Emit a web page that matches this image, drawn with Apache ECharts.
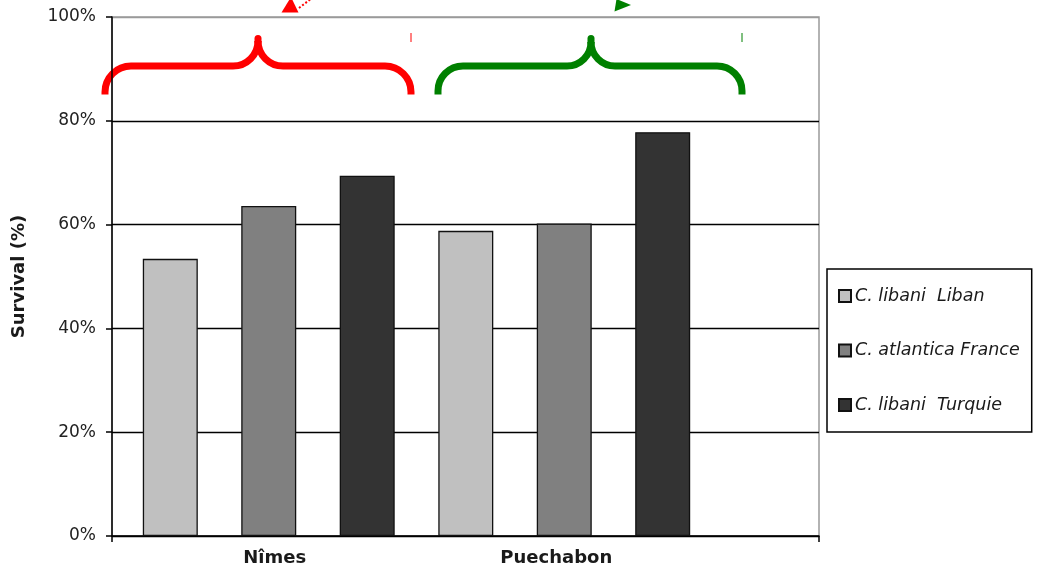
<!DOCTYPE html>
<html>
<head>
<meta charset="utf-8">
<title>Survival</title>
<script src="https://cdn.jsdelivr.net/npm/echarts@6/dist/echarts.min.js"></script>
<style>
  html, body { margin: 0; padding: 0; background: #fff; }
  #chart { width: 1039px; height: 571px; }
</style>
</head>
<body>
<div id="chart"></div>
<script>
// Sites and seed origins
const categories = ['Nîmes', 'Puechabon'];
const seriesNames = ['C. libani  Liban', 'C. atlantica France', 'C. libani  Turquie'];

// Survival rate (fraction) per site
const libaniLiban = [0.534, 0.588];
const atlanticaFrance = [0.636, 0.602];
const libaniTurquie = [0.694, 0.778];

// Y axis ticks
const yMin = 0;
const yMax = 1;
const yStep = 0.2;

const seriesValues = [libaniLiban, atlanticaFrance, libaniTurquie];
const seriesColors = ['#c0c0c0', '#808080', '#333333'];

const FONT = 'DejaVu Sans';

// Curly brace made of arcs and straight segments
function brace(xl, xp, xr, rOuter, rInner, color) {
  const yH = 66, yEnd = 94.5, yTop = 38.5;
  const yArc = yH + rOuter;
  const yPeakArc = yH - rInner;
  const style = { stroke: color, lineWidth: 7, fill: null };
  const els = [
    { type: 'line', shape: { x1: xl, y1: yArc, x2: xl, y2: yEnd }, style },
    { type: 'arc', shape: { cx: xl + rOuter, cy: yArc, r: rOuter, startAngle: Math.PI, endAngle: Math.PI * 1.5, clockwise: true }, style },
    { type: 'line', shape: { x1: xl + rOuter, y1: yH, x2: xp - rInner, y2: yH }, style },
    { type: 'arc', shape: { cx: xp - rInner, cy: yPeakArc, r: rInner, startAngle: 0, endAngle: Math.PI / 2, clockwise: true }, style },
    { type: 'line', shape: { x1: xp, y1: yPeakArc, x2: xp, y2: yTop }, style: Object.assign({}, style, { lineCap: 'round' }) },
    { type: 'arc', shape: { cx: xp + rInner, cy: yPeakArc, r: rInner, startAngle: Math.PI / 2, endAngle: Math.PI, clockwise: true }, style },
    { type: 'line', shape: { x1: xp + rInner, y1: yH, x2: xr - rOuter, y2: yH }, style },
    { type: 'arc', shape: { cx: xr - rOuter, cy: yArc, r: rOuter, startAngle: -Math.PI / 2, endAngle: 0, clockwise: true }, style },
    { type: 'line', shape: { x1: xr, y1: yArc, x2: xr, y2: yEnd }, style },
    { type: 'line', shape: { x1: xr, y1: 33, x2: xr, y2: 42 }, style: { stroke: color, lineWidth: 1 } }
  ];
  return els;
}

const graphics = []
  .concat(brace(105, 258, 411, 26, 25, '#ff0000'))
  .concat(brace(438, 591, 742, 25, 24, '#008000'))
  .concat([
    { type: 'polygon', shape: { points: [[281.5, 12.5], [298.5, 12.5], [291, -3]] }, style: { fill: '#ff0000' } },
    { type: 'line', shape: { x1: 299, y1: 8, x2: 312, y2: -2 }, style: { stroke: '#ff0000', lineWidth: 2, lineDash: [2, 2] } },
    { type: 'polygon', shape: { points: [[614.5, 11.5], [616.5, -1], [631, 5]] }, style: { fill: '#008000' } }
  ]);

const chart = echarts.init(document.getElementById('chart'), null, { renderer: 'canvas' });

chart.setOption({
  backgroundColor: '#ffffff',
  animation: false,
  grid: [
    { left: 112, right: 220, top: 17, bottom: 35, show: true, borderColor: '#9a9a9a', borderWidth: 1.5, backgroundColor: 'transparent' },
    { left: 121, width: 591, top: 17, bottom: 35 }
  ],
  xAxis: [
    {
      gridIndex: 0, type: 'category', data: [''], boundaryGap: true,
      axisLine: { lineStyle: { color: '#000', width: 1.5 } },
      axisTick: { show: true, length: 6, lineStyle: { color: '#000', width: 1.5 } },
      axisLabel: { show: false }
    },
    {
      gridIndex: 1, type: 'category', data: categories,
      axisLine: { show: false }, axisTick: { show: false },
      axisLabel: {
        margin: 13,
        formatter: (v, i) => i === 0 ? '{a|' + v + '}' : '{b|' + v + '}',
        rich: {
          a: { fontFamily: FONT, fontWeight: 'bold', fontSize: 18, color: '#1a1a1a', padding: [0, 0, 0, 12] },
          b: { fontFamily: FONT, fontWeight: 'bold', fontSize: 18, color: '#1a1a1a', padding: [0, 16, 0, 0] }
        }
      }
    }
  ],
  yAxis: [
    {
      gridIndex: 0, type: 'value', min: yMin, max: yMax, interval: yStep,
      name: 'Survival (%)', nameLocation: 'middle', nameRotate: 90, nameGap: 84,
      nameTextStyle: { fontFamily: FONT, fontWeight: 'bold', fontSize: 18, color: '#1a1a1a' },
      axisLine: { show: true, lineStyle: { color: '#000', width: 1.5 } },
      axisTick: { show: true, length: 6, lineStyle: { color: '#000', width: 1.5 } },
      axisLabel: {
        margin: 16, fontFamily: FONT, fontSize: 17, color: '#222',
        formatter: v => Math.round(v * 100) + '%'
      },
      splitLine: { show: true, lineStyle: { color: ['#000', '#000', '#000', '#000', '#000', '#9a9a9a'], width: 1.3 } }
    },
    {
      gridIndex: 1, type: 'value', min: yMin, max: yMax, show: false, splitLine: { show: false }
    }
  ],
  legend: {
    orient: 'vertical', left: 827, top: 269,
    padding: [18, 12, 18, 11],
    itemWidth: 12, itemHeight: 12, itemGap: 36.5,
    icon: 'rect',
    borderColor: '#000', borderWidth: 1.5, backgroundColor: '#fff',
    textStyle: { fontFamily: FONT, fontStyle: 'italic', fontSize: 17.5, color: '#1a1a1a', padding: [0, 0, 0, -1] },
    data: seriesNames
  },
  series: seriesNames.map((name, i) => ({
    name: name,
    type: 'bar',
    xAxisIndex: 1, yAxisIndex: 1,
    data: seriesValues[i],
    barWidth: 55,
    barGap: '79%',
    itemStyle: { color: seriesColors[i], borderColor: '#111', borderWidth: 1.3 }
  })),
  graphic: graphics
});
</script>
</body>
</html>
